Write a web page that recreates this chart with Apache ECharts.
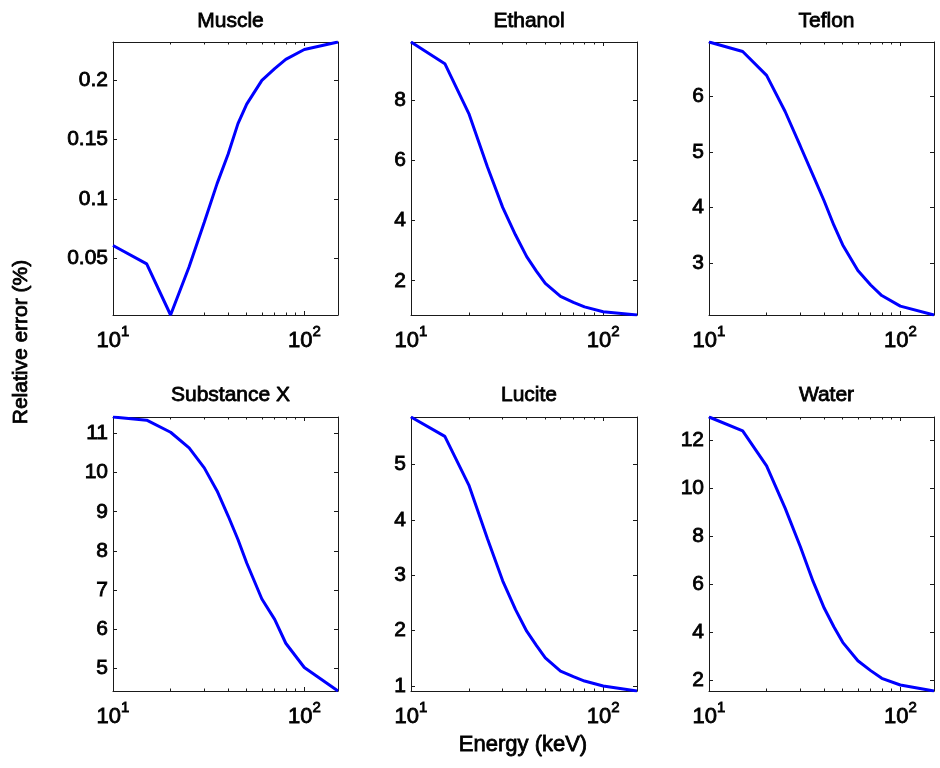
<!DOCTYPE html>
<html>
<head>
<meta charset="utf-8">
<script src="https://cdn.jsdelivr.net/npm/echarts@6/dist/echarts.min.js"></script>
<style>
  html, body { margin: 0; padding: 0; background: #fff; }
  #chart { width: 940px; height: 768px; }
</style>
</head>
<body>
<div id="chart"></div>
<script>
// Photon energies (keV) at which the relative error was evaluated
const energies = [10, 15, 20, 25, 30, 35, 40, 45, 50, 60, 70, 80, 100, 150];

// Relative error (%) per material
const muscle     = [0.0609, 0.0454, 0.0023, 0.043, 0.0805, 0.113, 0.138, 0.1635, 0.180, 0.200, 0.2099, 0.2177, 0.226, 0.2323];
const ethanol    = [9.94, 9.22, 7.56, 5.78, 4.44, 3.52, 2.80, 2.31, 1.91, 1.48, 1.28, 1.13, 0.97, 0.86];
const teflon     = [6.98, 6.81, 6.38, 5.73, 5.11, 4.58, 4.12, 3.68, 3.33, 2.87, 2.61, 2.42, 2.23, 2.07];
const substanceX = [11.42, 11.34, 11.03, 10.63, 10.12, 9.53, 8.89, 8.29, 7.69, 6.77, 6.25, 5.64, 5.02, 4.42];
const lucite     = [5.86, 5.51, 4.63, 3.66, 2.90, 2.38, 1.99, 1.73, 1.51, 1.27, 1.17, 1.09, 1.00, 0.91];
const water      = [12.97, 12.39, 10.93, 9.17, 7.57, 6.11, 5.00, 4.21, 3.57, 2.80, 2.39, 2.07, 1.79, 1.54];

// Y tick labels per panel
const muscleTicks     = [0.05, 0.1, 0.15, 0.2];
const ethanolTicks    = [2, 4, 6, 8];
const teflonTicks     = [3, 4, 5, 6];
const substanceXTicks = [5, 6, 7, 8, 9, 10, 11];
const luciteTicks     = [1, 2, 3, 4, 5];
const waterTicks      = [2, 4, 6, 8, 10, 12];

// Minor tick energies between the decades
const minorTickEnergies = [20, 30, 40, 50, 60, 70, 80, 90];

const panels = [
  { title: 'Muscle',      values: muscle,     ticks: muscleTicks },
  { title: 'Ethanol',     values: ethanol,    ticks: ethanolTicks },
  { title: 'Teflon',      values: teflon,     ticks: teflonTicks },
  { title: 'Substance X', values: substanceX, ticks: substanceXTicks },
  { title: 'Lucite',      values: lucite,     ticks: luciteTicks },
  { title: 'Water',       values: water,      ticks: waterTicks }
];

// Panel boxes (px)
const colLeft = [113, 411, 709];
const colWidth = [225, 226, 225];
const rowTop = [42, 417];
const rowHeight = [273, 274];

const FONT = 'Liberation Sans';
// regular face with a thin same-colour outline for a slightly heavier text
const heavy = { color: '#000', textBorderColor: '#000', textBorderWidth: 0.8 };
const frameColor = '#1a1a1a';
const eMin = energies[0], eMax = energies[energies.length - 1];
const minorLogs = minorTickEnergies.map(Math.log10);

const grids = [], xAxes = [], yAxes = [], series = [], titles = [];

panels.forEach((p, i) => {
  const r = Math.floor(i / 3), c = i % 3;
  grids.push({
    left: colLeft[c], top: rowTop[r], width: colWidth[c], height: rowHeight[r],
    containLabel: false, outerBoundsMode: 'none',
    show: false
  });
  titles.push({
    text: p.title,
    left: colLeft[c] + colWidth[c] / 2,
    top: r === 0 ? 6 : 380,
    textAlign: 'center',
    textStyle: Object.assign({ fontFamily: FONT, fontSize: 21, fontWeight: 'normal' }, heavy)
  });

  const lineStyle = { color: frameColor, width: 1 };
  // main log axis (bottom) carrying the data and decade labels
  xAxes.push({
    gridIndex: i, type: 'log', logBase: 10, min: eMin, max: eMax, position: 'bottom',
    axisLine: { show: true, onZero: false, lineStyle },
    axisTick: { show: true, inside: true, length: 4, lineStyle },
    splitLine: { show: false },
    axisLabel: {
      show: true, margin: 9, color: '#000',
      formatter: function (v) {
        const pw = Math.log10(v);
        if (Math.abs(pw - Math.round(pw)) > 1e-6) return '';
        return '{b|10}{s|' + Math.round(pw) + '}';
      },
      rich: {
        b: Object.assign({ fontFamily: FONT, fontSize: 22, verticalAlign: 'bottom', lineHeight: 28 }, heavy),
        s: Object.assign({ fontFamily: FONT, fontSize: 15, verticalAlign: 'top', lineHeight: 28 }, heavy)
      }
    }
  });
  // top frame log axis
  xAxes.push({
    gridIndex: i, type: 'log', logBase: 10, min: eMin, max: eMax, position: 'top',
    axisLine: { show: true, onZero: false, lineStyle },
    axisTick: { show: true, inside: true, length: 4, lineStyle },
    splitLine: { show: false }, axisLabel: { show: false }
  });
  // minor ticks (log10 space) bottom and top
  ['bottom', 'top'].forEach(pos => {
    xAxes.push({
      gridIndex: i, type: 'value', min: Math.log10(eMin), max: Math.log10(eMax), position: pos,
      axisLine: { show: false, onZero: false },
      axisTick: { show: true, inside: true, length: 2.5, customValues: minorLogs, lineStyle },
      splitLine: { show: false }, axisLabel: { show: false }
    });
  });

  const yMin = Math.min.apply(null, p.values), yMax = Math.max.apply(null, p.values);
  yAxes.push({
    gridIndex: i, type: 'value', min: yMin, max: yMax, position: 'left',
    axisLine: { show: true, onZero: false, lineStyle },
    axisTick: { show: true, inside: true, length: 4, customValues: p.ticks, lineStyle },
    splitLine: { show: false },
    axisLabel: Object.assign({
      show: true, margin: 5, customValues: p.ticks,
      fontFamily: FONT, fontSize: 21,
      formatter: v => String(+v.toFixed(4))
    }, heavy)
  });
  yAxes.push({
    gridIndex: i, type: 'value', min: yMin, max: yMax, position: 'right',
    axisLine: { show: true, onZero: false, lineStyle },
    axisTick: { show: true, inside: true, length: 4, customValues: p.ticks, lineStyle },
    splitLine: { show: false }, axisLabel: { show: false }
  });

  series.push({
    type: 'line', name: p.title,
    xAxisIndex: i * 4, yAxisIndex: i * 2,
    data: energies.map((e, j) => [e, p.values[j]]),
    showSymbol: false, symbol: 'none', smooth: false,
    lineStyle: { color: '#0000ff', width: 3 },
    clip: true, animation: false
  });
});

const chart = echarts.init(document.getElementById('chart'), null, { renderer: 'canvas' });
chart.setOption({
  backgroundColor: '#fff',
  animation: false,
  title: titles,
  grid: grids,
  xAxis: xAxes,
  yAxis: yAxes,
  series: series,
  graphic: [
    {
      type: 'text', x: 21, y: 342, rotation: Math.PI / 2,
      style: { text: 'Relative error (%)', fontFamily: FONT, fontSize: 21, fill: '#000', stroke: '#000', lineWidth: 0.8, align: 'center', verticalAlign: 'middle' }
    },
    {
      type: 'text', x: 523, y: 745,
      style: { text: 'Energy (keV)', fontFamily: FONT, fontSize: 22, fill: '#000', stroke: '#000', lineWidth: 0.8, align: 'center', verticalAlign: 'middle' }
    }
  ]
});
</script>
</body>
</html>
